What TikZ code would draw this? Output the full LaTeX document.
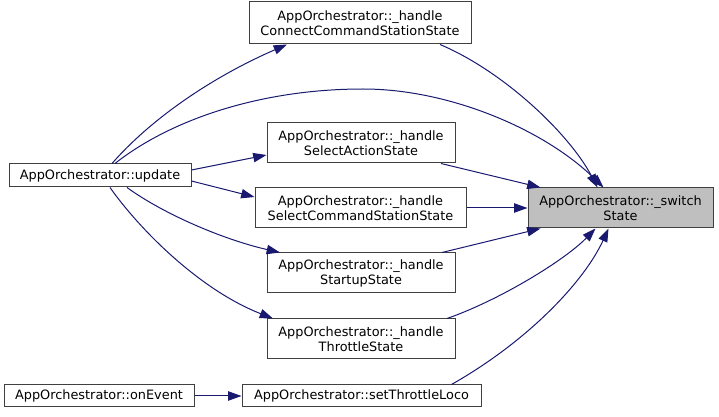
\documentclass[tikz,border=0pt]{standalone}
\usepackage{fontspec}
\setmainfont{DejaVu Sans}
\usetikzlibrary{arrows.meta,calc}
\definecolor{edgeblue}{HTML}{191970}
\definecolor{hlgray}{HTML}{BFBFBF}
\tikzset{
  fnode/.style={draw=black!75, line width=0.75pt, fill=white, inner sep=0pt, align=center,
    font=\fontsize{9.65}{11.2}\selectfont},
  edge/.style={draw=edgeblue, line width=0.75pt, -{Triangle[length=10pt,width=7pt]}}
}
\begin{document}
\begin{tikzpicture}[x=0.75pt,y=-0.75pt]
\useasboundingbox (0,0) rectangle (719,417);
\node[fnode, minimum width=136.5pt, minimum height=17.25pt] (up) at (100,175.5) {AppOrchestrator::update};
\node[fnode, minimum width=142.5pt, minimum height=16.5pt] (oe) at (99,396) {AppOrchestrator::onEvent};
\node[fnode, minimum width=166.5pt, minimum height=31.5pt] (cc) at (360,23) {AppOrchestrator::\_handle\\ConnectCommandStationState};
\node[fnode, minimum width=141pt, minimum height=30pt] (sa) at (361,143) {AppOrchestrator::\_handle\\SelectActionState};
\node[fnode, minimum width=158.25pt, minimum height=30pt] (scs) at (360.5,208) {AppOrchestrator::\_handle\\SelectCommandStationState};
\node[fnode, minimum width=141pt, minimum height=30pt] (st) at (361,273) {AppOrchestrator::\_handle\\StartupState};
\node[fnode, minimum width=141pt, minimum height=30pt] (th) at (361,339) {AppOrchestrator::\_handle\\ThrottleState};
\node[fnode, minimum width=179.25pt, minimum height=16.5pt] (stl) at (361.5,396) {AppOrchestrator::setThrottleLoco};
\node[fnode, fill=hlgray, minimum width=138.75pt, minimum height=30pt] (sw) at (620.5,208) {AppOrchestrator::\_switch\\State};

% edges into switchState
\draw[edge] ($(cc.south)+(80,0)$) .. controls (505,72) and (570,135) .. ($(sw.north)+(-23,0)$);
\draw[edge] ($(up.north)+(15,0)$) .. controls (170,120) and (260,89) .. (363,89)
   .. controls (450,89) and (545,130) .. ($(sw.north)+(-17,0)$);
\draw[edge] ($(sa.south)+(80,0)$) -- ($(sw.north)+(-80,0)$);
\draw[edge] (scs.east) -- (sw.west);
\draw[edge] ($(st.north)+(81,0)$) -- ($(sw.south)+(-80,0)$);
\draw[edge] ($(th.north)+(86,0)$) .. controls (500,300) and (565,260) .. ($(sw.south)+(-25,0)$);
\draw[edge] ($(stl.north)+(90,0)$) .. controls (530,340) and (585,280) .. ($(sw.south)+(-12,0)$);

% edges from update
\draw[edge] ($(up.north)+(12,0)$) .. controls (150,120) and (210,78) .. ($(cc.south)+(-73,0)$);
\draw[edge] ($(up.east)+(0,-5.5)$) -- ($(sa.west)+(0,12)$);
\draw[edge] ($(up.east)+(0,5.5)$) -- ($(scs.west)+(0,-11)$);
\draw[edge] ($(up.south)+(27,0)$) .. controls (165,215) and (225,240) .. ($(st.north)+(-81,0)$);
\draw[edge] ($(up.south)+(10,0)$) .. controls (140,230) and (200,290) .. ($(th.north)+(-88,0)$);

% onEvent
\draw[edge] (oe.east) -- (stl.west);
\end{tikzpicture}
\end{document}
